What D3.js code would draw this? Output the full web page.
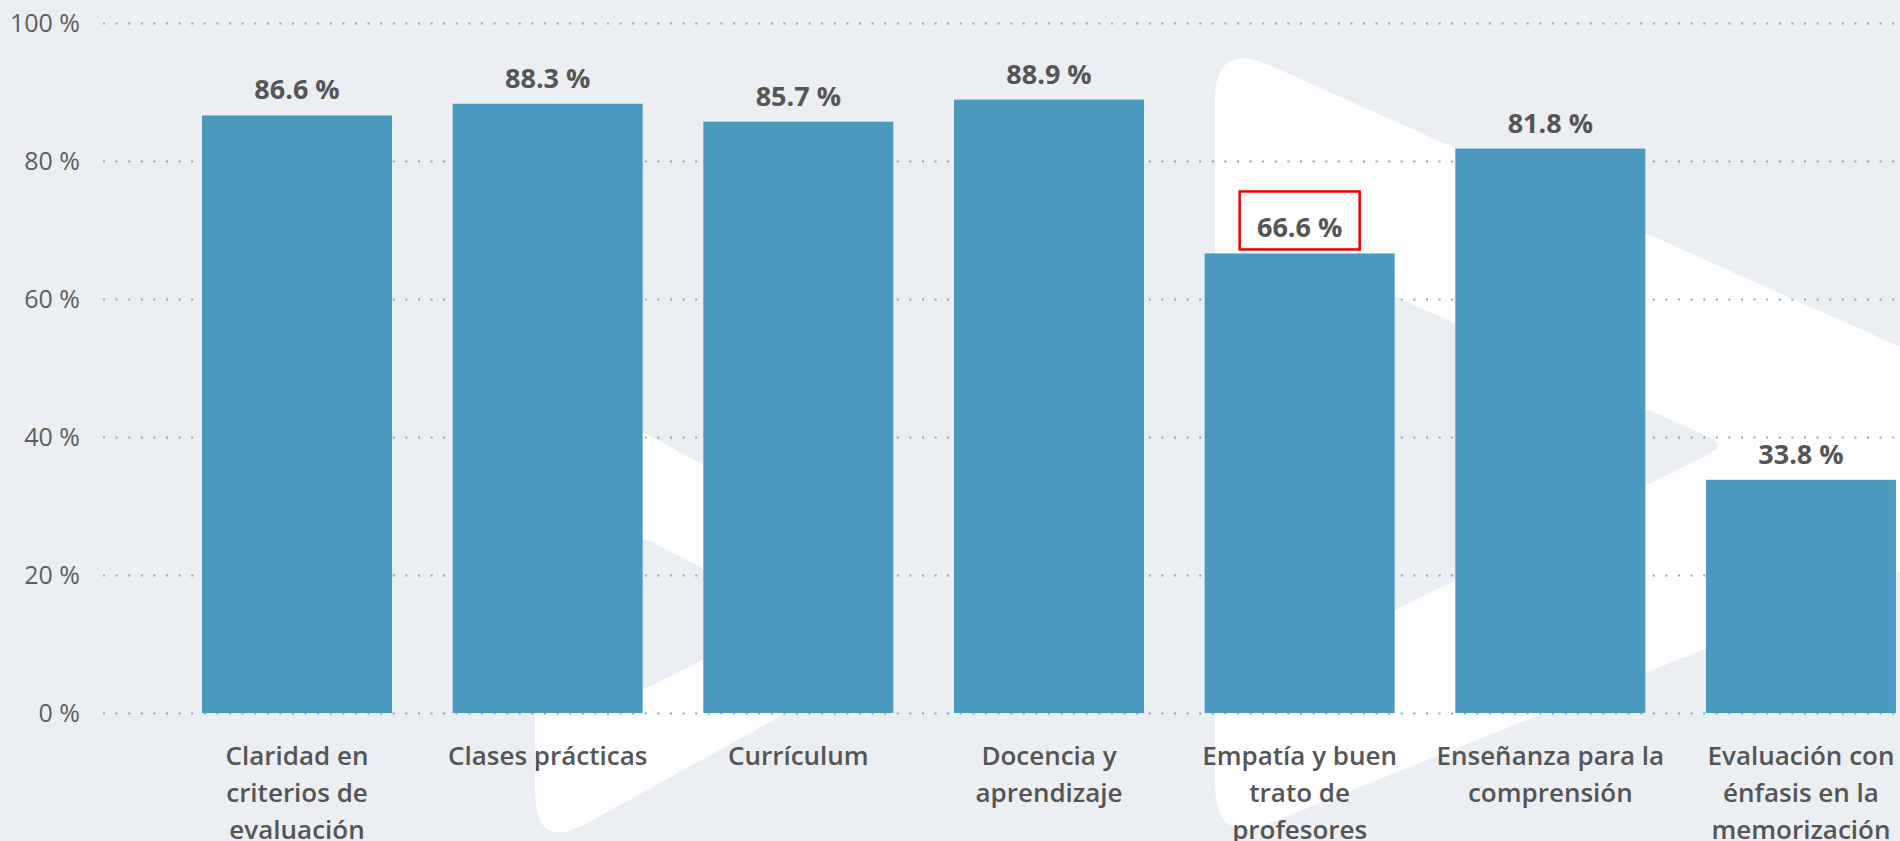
<!DOCTYPE html>
<html>
<head>
<meta charset="utf-8">
<script src="https://cdn.jsdelivr.net/npm/d3@7"></script>
<style>
html, body { margin: 0; padding: 0; background: #ebeef3; overflow: hidden; }
svg { display: block; }
text { font-family: 'Segoe UI', 'Open Sans', sans-serif; }
</style>
</head>
<body>
<svg id="chart" width="1900" height="841"></svg>
<script>
// data
var categories = [
	"Claridad en criterios de evaluación",
	"Clases prácticas",
	"Currículum",
	"Docencia y aprendizaje",
	"Empatía y buen trato de profesores",
	"Enseñanza para la comprensión",
	"Evaluación con énfasis en la memorización"
];
// tick labels as they wrap under each bar
var tickLines = [
	["Claridad en", "criterios de", "evaluación"],
	["Clases prácticas"],
	["Currículum"],
	["Docencia y", "aprendizaje"],
	["Empatía y buen", "trato de", "profesores"],
	["Enseñanza para la", "comprensión"],
	["Evaluación con", "énfasis en la", "memorización"]
];
var values = [86.6, 88.3, 85.7, 88.9, 66.6, 81.8, 33.8];
var yTicks = [0, 20, 40, 60, 80, 100];
var highlighted = ["Empatía y buen trato de profesores"];

var width = 1900, height = 841;
var barColor = "#4a9abf";
var bgColor = "#ebeef3";

var svg = d3.select("#chart");

var x = d3.scaleBand()
	.domain(categories)
	.range([171.7, 1926.3])
	.paddingInner(0.242)
	.paddingOuter(0.121);

var y = d3.scaleLinear()
	.domain([0, 100])
	.range([713, 23]);

// background
svg.append("rect")
	.attr("width", width)
	.attr("height", height)
	.attr("fill", bgColor);

// watermark (hollow "play" triangles behind the plot)
function roundedPath(pts, radii) {
	var p = d3.path(), n = pts.length;
	for (var i = 0; i < n; i++) {
		var prev = pts[(i - 1 + n) % n], cur = pts[i], next = pts[(i + 1) % n];
		var r = radii[i];
		var d1 = Math.hypot(prev[0] - cur[0], prev[1] - cur[1]);
		var d2 = Math.hypot(next[0] - cur[0], next[1] - cur[1]);
		var a = [cur[0] + (prev[0] - cur[0]) * r / d1, cur[1] + (prev[1] - cur[1]) * r / d1];
		var b = [cur[0] + (next[0] - cur[0]) * r / d2, cur[1] + (next[1] - cur[1]) * r / d2];
		if (i === 0) p.moveTo(a[0], a[1]); else p.lineTo(a[0], a[1]);
		p.quadraticCurveTo(cur[0], cur[1], b[0], b[1]);
	}
	p.closePath();
	return p.toString();
}

var logo = svg.append("g").attr("class", "watermark");
logo.append("path")
	.attr("d", roundedPath([[1215, 41], [2165, 465], [1215, 845]], [60, 120, 60]))
	.attr("fill", "#ffffff");
logo.append("path")
	.attr("d", roundedPath([[1365, 283], [1727, 445], [1365, 625]], [30, 20, 30]))
	.attr("fill", bgColor);
logo.append("path")
	.attr("d", roundedPath([[535, 373], [971, 611], [535, 852]], [60, 180, 60]))
	.attr("fill", "#ffffff");
logo.append("path")
	.attr("d", roundedPath([[627, 529], [793, 615], [627, 698]], [30, 20, 30]))
	.attr("fill", bgColor);

// grid
var g = svg.append("g");

g.append("g")
	.attr("class", "grid")
	.attr("transform", "translate(103,0)")
	.call(d3.axisLeft(y).tickValues(yTicks).tickSize(-(width - 103)).tickFormat(""))
	.call(function(s) { s.select(".domain").remove(); });

g.selectAll(".grid line")
	.attr("stroke", "#79adc2")
	.attr("stroke-width", 2)
	.attr("stroke-dasharray", "2,10.6");

// y labels
g.append("g")
	.attr("class", "axis")
	.attr("transform", "translate(80,0)")
	.call(d3.axisLeft(y).tickValues(yTicks).tickSize(0).tickPadding(0).tickFormat(function(d) { return d + " %"; }))
	.call(function(s) { s.select(".domain").remove(); })
	.selectAll("text")
	.attr("fill", "#605e5c")
	.style("font-size", "25px")
	.style("font-family", "'Segoe UI', 'Open Sans', sans-serif");

// bars
var data = categories.map(function(c, i) { return {cat: c, val: values[i], lines: tickLines[i]}; });

g.selectAll("rect.bar")
	.data(data)
	.enter().append("rect")
	.attr("class", "bar")
	.attr("x", function(d) { return x(d.cat); })
	.attr("width", x.bandwidth())
	.attr("y", function(d) { return y(d.val); })
	.attr("height", function(d) { return y(0) - y(d.val); })
	.attr("fill", barColor);

// value labels
g.selectAll("text.val")
	.data(data)
	.enter().append("text")
	.attr("class", "val")
	.attr("x", function(d) { return x(d.cat) + x.bandwidth() / 2; })
	.attr("y", function(d) { return y(d.val) - 16; })
	.attr("text-anchor", "middle")
	.attr("fill", "#555555")
	.style("font-size", "27px")
	.style("font-weight", "bold")
	.text(function(d) { return d.val.toFixed(1) + " %"; });

// highlight box
g.selectAll("rect.hl")
	.data(data.filter(function(d) { return highlighted.indexOf(d.cat) >= 0; }))
	.enter().append("rect")
	.attr("class", "hl")
	.attr("x", function(d) { return x(d.cat) + x.bandwidth() / 2 - 60; })
	.attr("y", function(d) { return y(d.val) - 17 - 45; })
	.attr("width", 120)
	.attr("height", 58)
	.attr("fill", "none")
	.attr("stroke", "#ee0000")
	.attr("stroke-width", 2.5);

// category labels
var cats = g.selectAll("text.cat")
	.data(data)
	.enter().append("text")
	.attr("class", "cat")
	.attr("text-anchor", "middle")
	.attr("fill", "#555555")
	.style("font-size", "26px")
	.style("font-weight", 600);

cats.selectAll("tspan")
	.data(function(d) { return d.lines.map(function(l) { return {cat: d.cat, line: l}; }); })
	.enter().append("tspan")
	.attr("x", function(d) { return x(d.cat) + x.bandwidth() / 2; })
	.attr("y", function(d, i) { return 765 + i * 37; })
	.text(function(d) { return d.line; });
</script>
</body>
</html>
